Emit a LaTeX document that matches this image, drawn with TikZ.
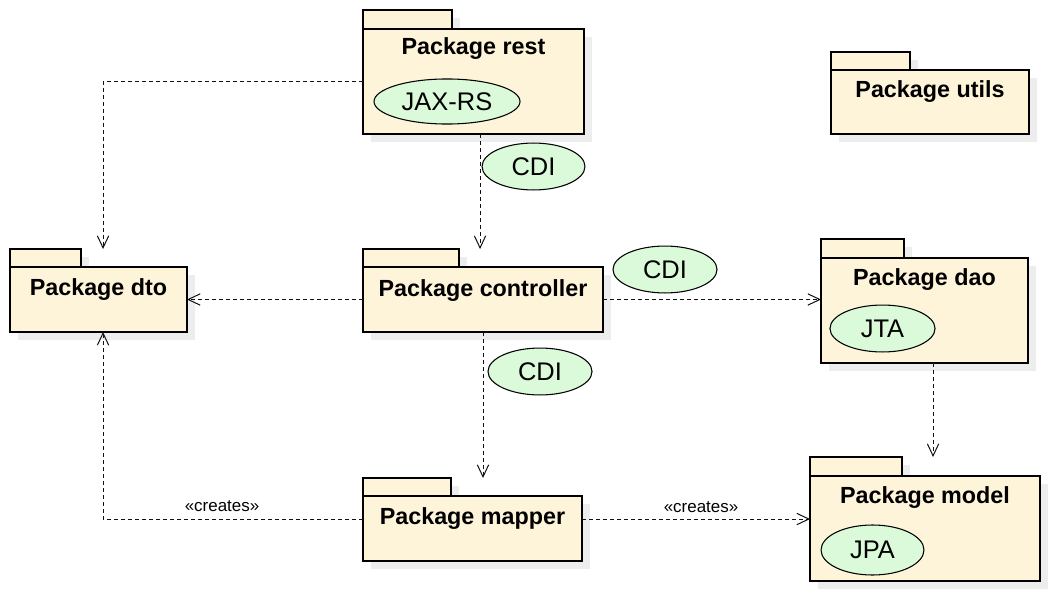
\documentclass[tikz,border=0pt]{standalone}
\usepackage{fontspec}
\setmainfont{Liberation Sans}
\usetikzlibrary{arrows.meta,shapes.geometric,calc}
\definecolor{pkgfill}{HTML}{FEF4DA}
\definecolor{ellfill}{HTML}{DAFADA}
\definecolor{shadowc}{HTML}{EDEDED}
\definecolor{linec}{HTML}{111111}
\tikzset{
  pkgtab/.style={draw=black, line width=1.1pt, fill=pkgfill, inner sep=0pt, outer sep=0pt},
  pkgbody/.style={draw=black, line width=1.1pt, fill=pkgfill, inner sep=0pt, outer sep=0pt},
  pkgtitle/.style={font=\fontsize{17.5}{20}\selectfont\bfseries, inner sep=0pt},
  ellnode/.style={ellipse, draw=black, line width=0.8pt, fill=ellfill, inner sep=0pt,
    font=\fontsize{19.1}{21}\selectfont},
  stereo/.style={font=\fontsize{12.7}{14}\selectfont, inner sep=0pt},
  dep/.style={draw=linec, line width=0.75pt, dash pattern=on 3pt off 2.25pt,
    -{Straight Barb[length=9pt,width=8.5pt]}},
}
% #1 name, #2 left x, #3 tab top, #4 tab right, #5 body top, #6 body right, #7 body bottom, #8 title baseline, #9 title
\newcommand\umlpkg[9]{%
  \fill[shadowc] ({#2+8},{#3+8}) rectangle ({#4+8},{#5+8});
  \fill[shadowc] ({#2+8},{#5+8}) rectangle ({#6+8},{#7+8});
  \node[pkgtab, minimum width={(#4-#2)*0.75pt}, minimum height={(#5-#3)*0.75pt}, anchor=north west] (#1tab) at (#2,#3) {};
  \node[pkgbody, minimum width={(#6-#2)*0.75pt}, minimum height={(#7-#5)*0.75pt}, anchor=north west] (#1) at (#2,#5) {};
  \node[pkgtitle, anchor=base] (#1title) at ({(#2+#6)/2},#8) {#9};
}
\begin{document}
\begin{tikzpicture}[x=0.75pt,y=-0.75pt]
\useasboundingbox (0,0) rectangle (1048,599);
\fill[white] (0,0) rectangle (1048,599);

\umlpkg{rest}{363}{10}{452}{29}{584}{134}{55}{Package rest}
\umlpkg{utils}{831}{52}{910}{70}{1029}{134}{98}{Package utils}
\umlpkg{dto}{10}{249}{81}{267}{187}{332}{295}{Package dto}
\umlpkg{controller}{363}{249}{459}{267}{603}{332}{296}{Package controller}
\umlpkg{dao}{821}{239}{904}{258}{1028}{363}{285}{Package dao}
\umlpkg{mapper}{363}{478}{451}{496}{582}{561}{524}{Package mapper}
\umlpkg{model}{810}{457}{902}{476}{1040}{581}{503}{Package model}

\node[ellnode, minimum width=109.5pt, minimum height=33.8pt] (jaxrs) at (447,101.5) {JAX-RS};
\node[ellnode, minimum width=78.8pt, minimum height=35.2pt] (jta) at (882.5,328.5) {JTA};
\node[ellnode, minimum width=77.2pt, minimum height=37.5pt] (jpa) at (872.5,550) {JPA};
\node[ellnode, minimum width=77.2pt, minimum height=35.2pt] (cdi1) at (533.5,166.5) {CDI};
\node[ellnode, minimum width=78pt, minimum height=35.2pt] (cdi2) at (665,269.5) {CDI};
\node[ellnode, minimum width=78pt, minimum height=35.2pt] (cdi3) at (540,371.5) {CDI};

\coordinate (dtoport) at ([xshift=3.4pt]dto.north);
\coordinate (restport) at ([xshift=4.9pt]rest.south);
\coordinate (daoport) at ([xshift=6.4pt]dao.south);
\coordinate (mapperw) at ([yshift=7.1pt]mapper.west);
\coordinate (mappere) at ([yshift=7.1pt]mapper.east);

\draw[dep] (rest.west) -| (dtoport |- dtotab.north);
\draw[dep] (restport) -- (restport |- controllertab.north);
\draw[dep] (controller.west) -- (dto.east);
\draw[dep] (controller.east) -- (controller.east -| dao.west);
\draw[dep] (controller.south) -- (controller.south |- mappertab.north);
\draw[dep] (daoport) -- (daoport |- modeltab.north);
\draw[dep] (mapperw) -| (dtoport |- dto.south);
\draw[dep] (mappere) -- (mappere -| model.west);

\node[stereo, anchor=base] (cr1) at (222,511) {«creates»};
\node[stereo, anchor=base] (cr2) at (701,512) {«creates»};
\end{tikzpicture}
\end{document}
